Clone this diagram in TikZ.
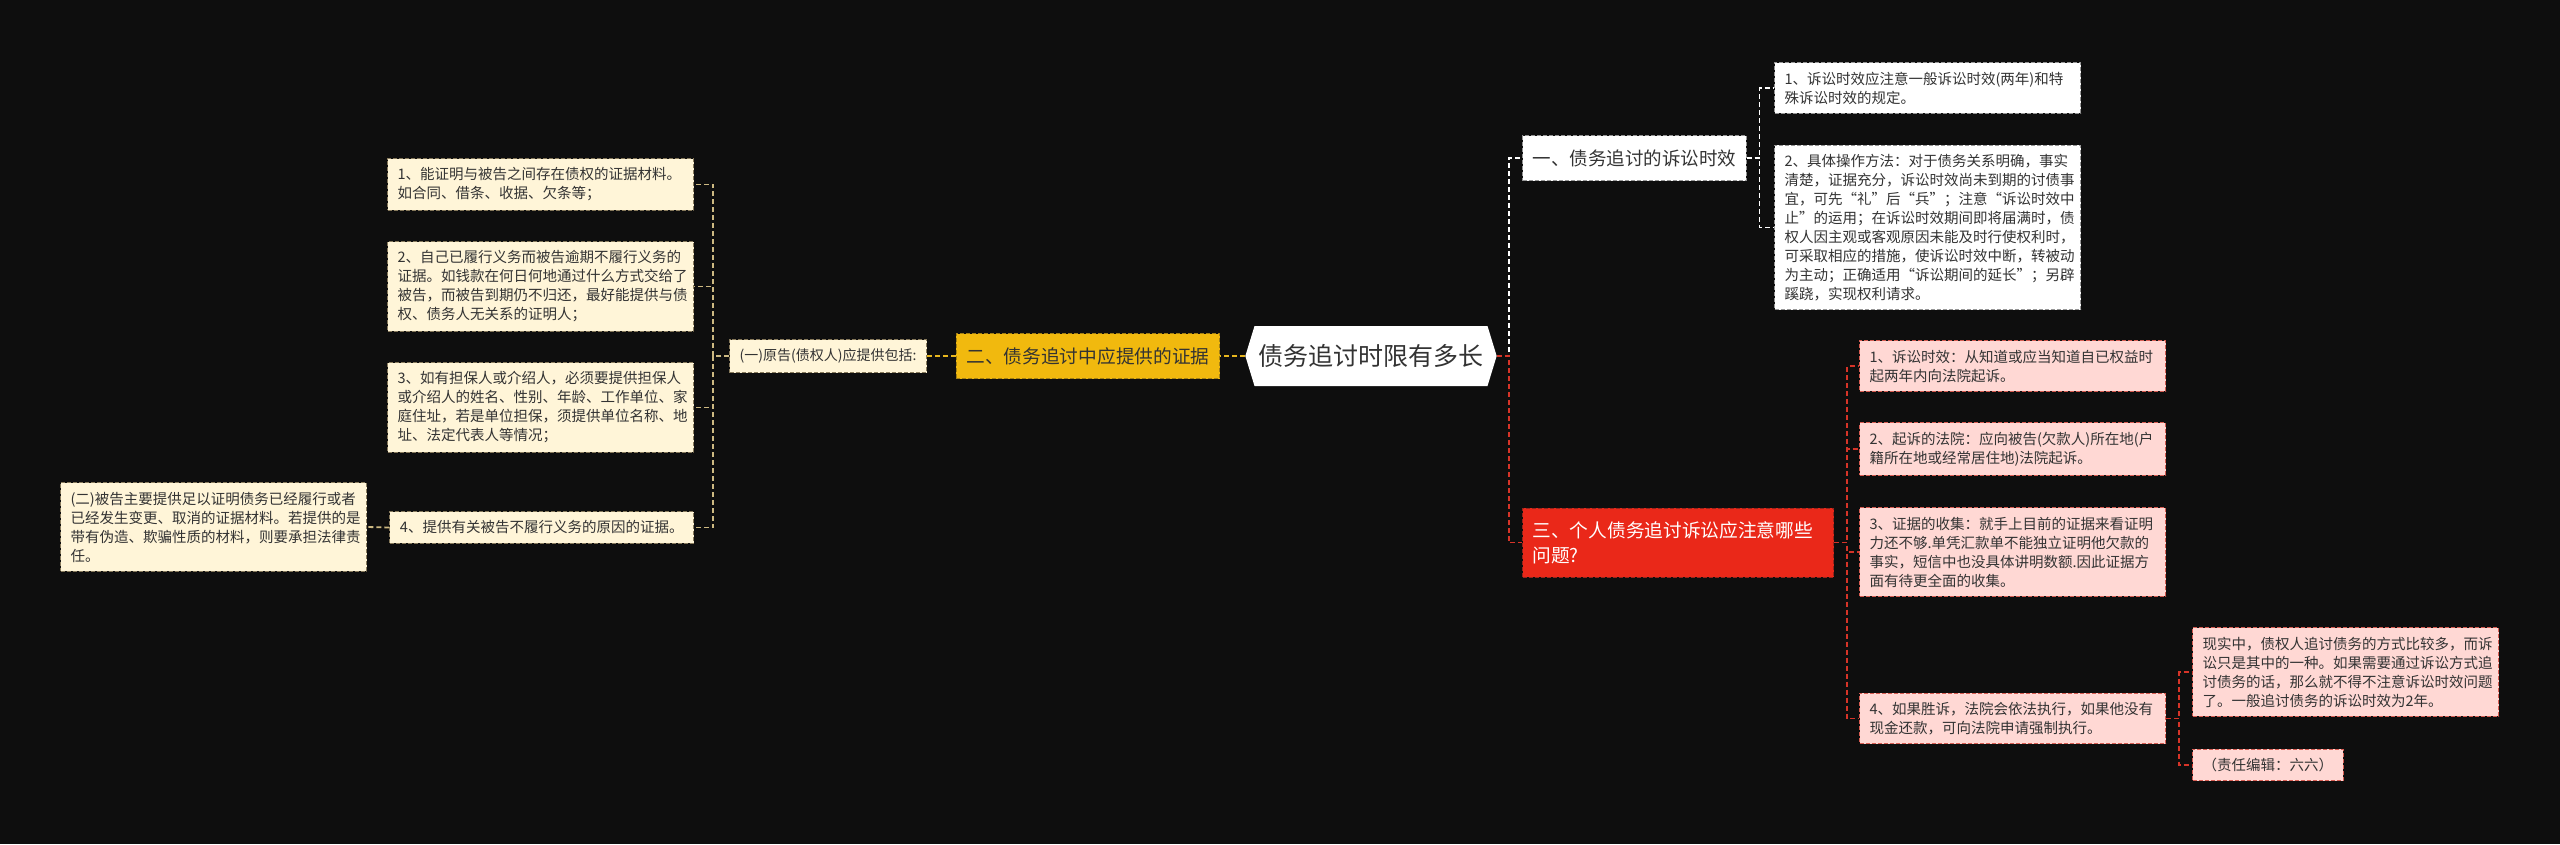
\documentclass[tikz,border=0pt]{standalone}
\usepackage{fontspec}
\setmainfont{Noto Sans CJK SC}
\usetikzlibrary{shapes.symbols}
\definecolor{night}{RGB}{14,14,14}
\definecolor{ink}{RGB}{51,51,51}
\definecolor{gold}{RGB}{241,185,14}
\definecolor{goldline}{RGB}{232,182,30}
\definecolor{cream}{RGB}{255,245,216}
\definecolor{creamline}{RGB}{135,122,92}
\definecolor{khaki}{RGB}{205,185,130}
\definecolor{blush}{RGB}{255,216,212}
\definecolor{blushline}{RGB}{214,92,82}
\definecolor{alarm}{RGB}{234,40,25}
\definecolor{alarmline}{RGB}{214,52,40}
\definecolor{greyline}{RGB}{150,150,150}
\tikzset{
  con/.style={draw=#1,line width=1.8pt,dash pattern=on 5pt off 3pt},
  con/.default=khaki,
  leaf/.style={draw=#1,line width=1pt,dash pattern=on 4pt off 2pt,text=ink,
    font=\fontsize{14.5}{19}\selectfont,align=left,text width=286pt,
    inner xsep=10pt,inner ysep=9pt},
  cream leaf/.style={leaf=creamline,fill=cream},
  blush leaf/.style={leaf=blushline,fill=blush},
  white leaf/.style={leaf=greyline,fill=white},
  topic/.style={shape=signal,signal to=east and west,signal pointer angle=146,
    fill=white,text=ink,font=\fontsize{25}{30}\selectfont,
    inner xsep=4pt,minimum height=60pt},
  branch/.style={draw=#1,line width=1pt,dash pattern=on 4pt off 2pt,
    minimum height=45pt,inner xsep=10pt},
}
\begin{document}
\begin{tikzpicture}[x=1pt,y=-1pt]
  \fill[night] (0,0) rectangle (2560,844);
  \useasboundingbox (0,0) rectangle (2560,844);
  % centre
  \node[topic] (root) at (1371,356) {债务追讨时限有多长};
  % left branch
  \node[branch=goldline!70!black,fill=gold,text=ink,font=\fontsize{18.7}{22}\selectfont] (two) at (1088,356) {二、债务追讨中应提供的证据};
  \node[leaf=creamline,fill=cream,text width=,minimum height=33pt,inner ysep=4pt,font=\fontsize{14}{18}\selectfont,anchor=east] (plaintiff) at (927,356) {(一)原告(债权人)应提供包括:};
  \node[cream leaf,anchor=east] (pA) at (694,184.5) {1、能证明与被告之间存在债权的证据材料。\\如合同、借条、收据、欠条等；};
  \node[cream leaf,anchor=east] (pB) at (694,286.5) {2、自己已履行义务而被告逾期不履行义务的\\证据。如钱款在何日何地通过什么方式交给了\\被告，而被告到期仍不归还，最好能提供与债\\权、债务人无关系的证明人；};
  \node[cream leaf,anchor=east] (pC) at (694,407.5) {3、如有担保人或介绍人，必须要提供担保人\\或介绍人的姓名、性别、年龄、工作单位、家\\庭住址，若是单位担保，须提供单位名称、地\\址、法定代表人等情况；};
  \node[cream leaf,text width=,anchor=east] (pD) at (694,527.5) {4、提供有关被告不履行义务的原因的证据。};
  \node[cream leaf,anchor=east] (defendant) at (367,527) {(二)被告主要提供足以证明债务已经履行或者\\已经发生变更、取消的证据材料。若提供的是\\带有伪造、欺骗性质的材料，则要承担法律责\\任。};
  % right branch, top
  \node[branch=greyline,fill=white,text=ink,font=\fontsize{18.5}{22}\selectfont,anchor=west] (one) at (1522,158) {一、债务追讨的诉讼时效};
  \node[white leaf,anchor=west] (oA) at (1774,88) {1、诉讼时效应注意一般诉讼时效(两年)和特\\殊诉讼时效的规定。};
  \node[white leaf,anchor=west] (oB) at (1774,227.5) {2、具体操作方法：对于债务关系明确，事实\\清楚，证据充分，诉讼时效尚未到期的讨债事\\宜，可先“礼”后“兵”；注意“诉讼时效中\\止”的运用；在诉讼时效期间即将届满时，债\\权人因主观或客观原因未能及时行使权利时，\\可采取相应的措施，使诉讼时效中断，转被动\\为主动；正确适用“诉讼期间的延长”；另辟\\蹊跷，实现权利请求。};
  % right branch, bottom
  \node[branch=alarmline!70!black,fill=alarm,text=white,font=\fontsize{18.7}{25}\selectfont,
    align=left,text width=291pt,minimum height=69pt,anchor=west] (three) at (1522,542.5) {三、个人债务追讨诉讼应注意哪些\\问题?};
  \node[blush leaf,anchor=west] (tA) at (1859,366) {1、诉讼时效：从知道或应当知道自已权益时\\起两年内向法院起诉。};
  \node[blush leaf,anchor=west] (tB) at (1859,449) {2、起诉的法院：应向被告(欠款人)所在地(户\\籍所在地或经常居住地)法院起诉。};
  \node[blush leaf,anchor=west] (tC) at (1859,552) {3、证据的收集：就手上目前的证据来看证明\\力还不够.单凭汇款单不能独立证明他欠款的\\事实，短信中也没具体讲明数额.因此证据方\\面有待更全面的收集。};
  \node[blush leaf,anchor=west] (tD) at (1859,718.5) {4、如果胜诉，法院会依法执行，如果他没有\\现金还款，可向法院申请强制执行。};
  \node[blush leaf,anchor=west] (tDa) at (2192,672) {现实中，债权人追讨债务的方式比较多，而诉\\讼只是其中的一种。如果需要通过诉讼方式追\\讨债务的话，那么就不得不注意诉讼时效问题\\了。一般追讨债务的诉讼时效为2年。};
  \node[blush leaf,text width=,anchor=west] (tDb) at (2192,765) {（责任编辑：六六）};
  % connectors
  \draw[con=goldline] (root.west) -- (two.east);
  \draw[con=goldline] (two.west) -- (plaintiff.east);
  \foreach \n in {pA,pB,pC,pD}
    \draw[con] (plaintiff.west) -- ++(-16,0) |- (\n.east);
  \draw[con] (pD.west) -- (defendant.east);
  \draw[con=white] (root.east) -- ++(12,0) |- (one.west);
  \draw[con=alarmline] (root.east) -- ++(12,0) |- (three.west);
  \foreach \n in {oA,oB}
    \draw[con=white] (one.east) -- ++(13,0) |- (\n.west);
  \foreach \n in {tA,tB,tC,tD}
    \draw[con=alarmline] (three.east) -- ++(13,0) |- (\n.west);
  \foreach \n in {tDa,tDb}
    \draw[con=alarmline] (tD.east) -- ++(13,0) |- (\n.west);
\end{tikzpicture}
\end{document}
